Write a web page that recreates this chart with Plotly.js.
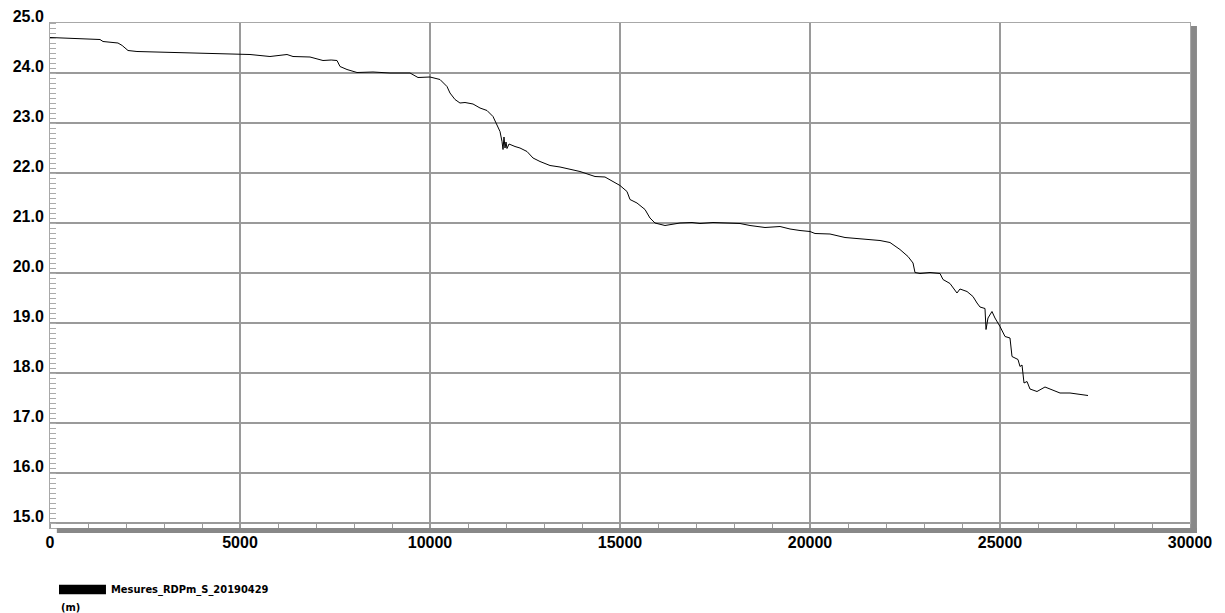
<!DOCTYPE html>
<html>
<head>
<meta charset="utf-8">
<script src="https://cdn.plot.ly/plotly-3.0.1.min.js"></script>
<style>
html,body{margin:0;padding:0;background:#fff;}
#chart{width:1225px;height:613px;}
</style>
</head>
<body>
<div id="chart"></div>
<script>
const seriesName = "Mesures_RDPm_S_20190429";
const unitLabel = "(m)";
const distance = [0,300,650,1000,1316,1395,1600,1789,1900,2053,2289,2800,3500,4200,5000,5263,5789,6000,6237,6395,6842,7184,7400,7553,7632,7816,8079,8500,8947,9474,9553,9684,10000,10263,10447,10526,10658,10789,10921,11132,11316,11500,11658,11763,11842,11895,11921,11947,11974,12000,12026,12079,12105,12237,12368,12553,12711,12895,13158,13421,13947,14342,14605,14816,15000,15184,15263,15447,15658,15789,15921,16184,16447,16579,16895,17105,17447,17800,18158,18421,18816,19211,19474,19737,20000,20132,20526,20921,21316,21842,22105,22368,22579,22711,22763,22895,23158,23421,23500,23684,23868,23947,24132,24289,24395,24474,24605,24632,24684,24789,24868,25000,25132,25263,25316,25474,25526,25579,25632,25711,25789,25974,26184,26316,26579,26842,27105,27316];
const level = [24.71,24.70,24.69,24.68,24.67,24.63,24.62,24.60,24.55,24.45,24.43,24.42,24.41,24.40,24.39,24.37,24.33,24.35,24.37,24.33,24.32,24.25,24.26,24.25,24.13,24.07,24.01,24.02,24.00,24.00,23.97,23.91,23.92,23.87,23.73,23.60,23.47,23.40,23.41,23.38,23.30,23.25,23.13,22.97,22.83,22.63,22.47,22.72,22.50,22.62,22.49,22.58,22.57,22.53,22.50,22.43,22.30,22.23,22.15,22.12,22.03,21.93,21.92,21.83,21.75,21.63,21.47,21.40,21.27,21.10,21.00,20.95,20.99,21.00,21.01,20.99,21.01,21.00,20.99,20.95,20.91,20.93,20.88,20.85,20.83,20.79,20.78,20.71,20.68,20.65,20.61,20.47,20.33,20.20,20.01,19.99,20.01,19.99,19.87,19.79,19.60,19.68,19.63,19.53,19.40,19.32,19.29,18.87,19.10,19.23,19.10,18.93,18.73,18.70,18.33,18.27,18.13,18.16,17.80,17.83,17.68,17.63,17.72,17.68,17.60,17.60,17.57,17.55];
const xTicks = [0,5000,10000,15000,20000,25000,30000];
const yTicks = [15,16,17,18,19,20,21,22,23,24,25];

const tickFont = {family:"Liberation Sans, Arial, sans-serif", size:16, color:"#000", weight:"bold"};
const legendFont = {family: "DejaVu Sans Condensed, Liberation Sans Narrow, Arial Narrow, sans-serif", size: 11, color: "#000", weight: "bold"};

Plotly.newPlot("chart", [{
  x: distance, y: level, type: "scatter", mode: "lines",
  line: {color: "#000", width: 1}, showlegend: false, hoverinfo: "skip"
}], {
  width: 1225, height: 613,
  margin: {l: 50, r: 35, t: 23, b: 85},
  paper_bgcolor: "#fff", plot_bgcolor: "#fff",
  xaxis: {
    range: [0, 30000], tickvals: xTicks, ticktext: xTicks.map(String),
    showgrid: true, gridcolor: "#9a9a9a", gridwidth: 1.5,
    zeroline: false, showline: true, linecolor: "#a8a8a8", linewidth: 1, mirror: true,
    ticks: "", tickfont: tickFont,
    minor: {dtick: 1000, tick0: 0, ticks: "inside", ticklen: 4, tickcolor: "#999", showgrid: false}
  },
  yaxis: {
    range: [14.9, 25], tickvals: yTicks, ticktext: yTicks.map(v => v.toFixed(1)),
    showgrid: true, gridcolor: "#9a9a9a", gridwidth: 1.5,
    zeroline: false, showline: true, linecolor: "#a8a8a8", linewidth: 1, mirror: true,
    ticks: "", tickfont: tickFont, ticklabelshift: -7, ticklabelstandoff: 2,
    minor: {dtick: 0.1, tick0: 0, ticks: "inside", ticklen: 6, tickcolor: "#aaa", showgrid: false}
  },
  shapes: [
    {type: "rect", xref: "paper", yref: "paper", x0: 1.0009, x1: 1.0061, y0: -0.01, y1: 0.994, fillcolor: "#888", line: {width: 0}},
    {type: "rect", xref: "paper", yref: "paper", x0: 0.006, x1: 1.0061, y0: -0.0098, y1: 0.0, fillcolor: "#888", line: {width: 0}},
    {type: "rect", xref: "paper", yref: "paper", x0: 0.0079, x1: 0.0491, y0: -0.131, y1: -0.1125, fillcolor: "#000", line: {width: 0}}
  ],
  annotations: [
    {xref: "paper", yref: "paper", x: 0.052, y: -0.122, xanchor: "left", yanchor: "middle", showarrow: false,
     text: seriesName, font: legendFont},
    {xref: "paper", yref: "paper", x: 0.0075, y: -0.158, xanchor: "left", yanchor: "middle", showarrow: false,
     text: unitLabel, font: legendFont}
  ]
}, {displayModeBar: false, staticPlot: true});
</script>
</body>
</html>
